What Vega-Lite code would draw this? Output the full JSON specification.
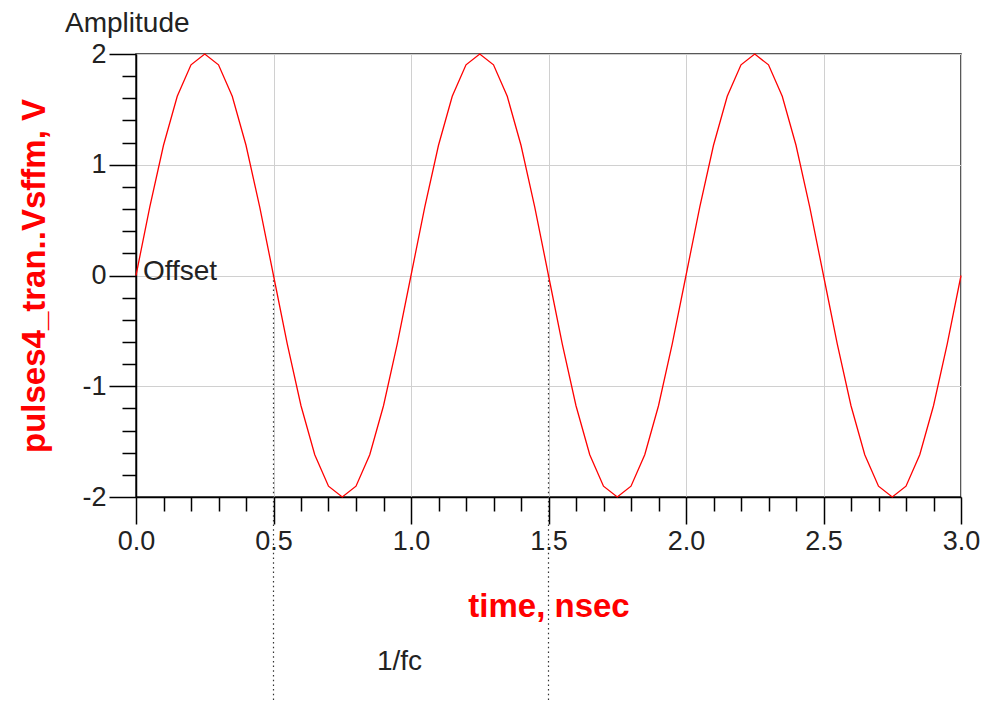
{
  "$schema": "https://vega.github.io/schema/vega-lite/v6.json",
  "width": 825,
  "height": 443,
  "autosize": {"type": "none"},
  "padding": {"left": 136, "top": 54, "right": 20, "bottom": 205},
  "background": "white",
  "config": {
    "font": "Liberation Sans",
    "view": {"stroke": "#222222", "strokeWidth": 1.5},
    "axis": {
      "domainColor": "#000000",
      "domainWidth": 1.5,
      "tickColor": "#000000",
      "tickWidth": 1.5,
      "labelFont": "Liberation Sans",
      "labelFontSize": 27,
      "labelColor": "#222222",
      "labelFlush": false,
      "titleFont": "Liberation Sans",
      "titleColor": "#ff0000",
      "titleFontSize": 33,
      "titleFontWeight": "bold",
      "gridColor": "#d0d0d0",
      "gridWidth": 1
    }
  },
  "datasets": {
    "wave": [
      {"t": 0.0, "v": 0}, {"t": 0.05, "v": 0.618}, {"t": 0.1, "v": 1.176}, {"t": 0.15, "v": 1.618}, {"t": 0.2, "v": 1.902},
      {"t": 0.25, "v": 2.0}, {"t": 0.3, "v": 1.902}, {"t": 0.35, "v": 1.618}, {"t": 0.4, "v": 1.176}, {"t": 0.45, "v": 0.618},
      {"t": 0.5, "v": 0}, {"t": 0.55, "v": -0.618}, {"t": 0.6, "v": -1.176}, {"t": 0.65, "v": -1.618}, {"t": 0.7, "v": -1.902},
      {"t": 0.75, "v": -2.0}, {"t": 0.8, "v": -1.902}, {"t": 0.85, "v": -1.618}, {"t": 0.9, "v": -1.176}, {"t": 0.95, "v": -0.618},
      {"t": 1.0, "v": 0}, {"t": 1.05, "v": 0.618}, {"t": 1.1, "v": 1.176}, {"t": 1.15, "v": 1.618}, {"t": 1.2, "v": 1.902},
      {"t": 1.25, "v": 2.0}, {"t": 1.3, "v": 1.902}, {"t": 1.35, "v": 1.618}, {"t": 1.4, "v": 1.176}, {"t": 1.45, "v": 0.618},
      {"t": 1.5, "v": 0}, {"t": 1.55, "v": -0.618}, {"t": 1.6, "v": -1.176}, {"t": 1.65, "v": -1.618}, {"t": 1.7, "v": -1.902},
      {"t": 1.75, "v": -2.0}, {"t": 1.8, "v": -1.902}, {"t": 1.85, "v": -1.618}, {"t": 1.9, "v": -1.176}, {"t": 1.95, "v": -0.618},
      {"t": 2.0, "v": 0}, {"t": 2.05, "v": 0.618}, {"t": 2.1, "v": 1.176}, {"t": 2.15, "v": 1.618}, {"t": 2.2, "v": 1.902},
      {"t": 2.25, "v": 2.0}, {"t": 2.3, "v": 1.902}, {"t": 2.35, "v": 1.618}, {"t": 2.4, "v": 1.176}, {"t": 2.45, "v": 0.618},
      {"t": 2.5, "v": 0}, {"t": 2.55, "v": -0.618}, {"t": 2.6, "v": -1.176}, {"t": 2.65, "v": -1.618}, {"t": 2.7, "v": -1.902},
      {"t": 2.75, "v": -2.0}, {"t": 2.8, "v": -1.902}, {"t": 2.85, "v": -1.618}, {"t": 2.9, "v": -1.176}, {"t": 2.95, "v": -0.618},
      {"t": 3.0, "v": 0}
    ],
    "markers": [
      {"t": 0.5, "v": 0, "v2": -3.86},
      {"t": 1.5, "v": 0, "v2": -3.86}
    ],
    "notes": [
      {"t": -0.258, "v": 2.2, "label": "Amplitude"},
      {"t": 0.025, "v": -0.04, "label": "Offset"},
      {"t": 0.876, "v": -3.56, "label": "1/fc"}
    ]
  },
  "layer": [
    {
      "data": {"name": "markers"},
      "mark": {"type": "rule", "color": "#333333", "strokeWidth": 1.2, "strokeDash": [1.5, 3.2], "clip": false},
      "encoding": {
        "x": {
          "field": "t", "type": "quantitative",
          "scale": {"domain": [0, 3], "nice": false, "zero": false},
          "axis": {
            "orient": "bottom",
            "values": [0.1, 0.2, 0.3, 0.4, 0.6, 0.7, 0.8, 0.9, 1.1, 1.2, 1.3, 1.4, 1.6, 1.7, 1.8, 1.9, 2.1, 2.2, 2.3, 2.4, 2.6, 2.7, 2.8, 2.9],
            "tickSize": 14, "labels": false, "domain": false, "grid": false, "title": null
          }
        },
        "y": {
          "field": "v", "type": "quantitative",
          "scale": {"domain": [-2, 2], "nice": false, "zero": false},
          "axis": {
            "orient": "left",
            "values": [-1.8, -1.6, -1.4, -1.2, -0.8, -0.6, -0.4, -0.2, 0.2, 0.4, 0.6, 0.8, 1.2, 1.4, 1.6, 1.8],
            "tickSize": 14, "labels": false, "domain": false, "grid": false, "title": null
          }
        },
        "y2": {"field": "v2"}
      }
    },
    {
      "data": {"name": "wave"},
      "mark": {"type": "line", "color": "#ff0000", "strokeWidth": 1.3},
      "encoding": {
        "x": {
          "field": "t", "type": "quantitative",
          "axis": {
            "orient": "bottom",
            "values": [0, 0.5, 1, 1.5, 2, 2.5, 3],
            "format": ".1f",
            "tickSize": 27,
            "labelPadding": 4,
            "grid": true,
            "title": "time, nsec",
            "titlePadding": 36
          }
        },
        "y": {
          "field": "v", "type": "quantitative",
          "axis": {
            "orient": "left",
            "values": [-2, -1, 0, 1, 2],
            "labelExpr": "datum.value + ''",
            "tickSize": 27,
            "labelPadding": 3,
            "grid": true,
            "title": "pulses4_tran..Vsffm, V",
            "titlePadding": 30
          }
        }
      }
    },
    {
      "data": {"name": "notes"},
      "mark": {"type": "text", "align": "left", "baseline": "alphabetic", "font": "Liberation Sans", "fontSize": 28, "color": "#222222", "clip": false},
      "encoding": {
        "x": {"field": "t", "type": "quantitative", "axis": null},
        "y": {"field": "v", "type": "quantitative", "axis": null},
        "text": {"field": "label"}
      }
    }
  ],
  "resolve": {"axis": {"x": "independent", "y": "independent"}}
}
